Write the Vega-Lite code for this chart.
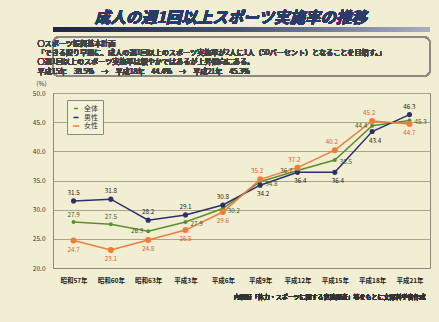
{
  "$schema": "https://vega.github.io/schema/vega-lite/v6.json",
  "autosize": "none",
  "width": 377,
  "height": 175,
  "padding": {"left": 53, "top": 93, "right": 9, "bottom": 54},
  "background": "#f2eed3",
  "config": {
    "font": "Noto Sans CJK JP",
    "view": {"stroke": "#8a8a78", "strokeWidth": 1},
    "axis": {"labelFont": "Noto Sans CJK JP", "titleFont": "Noto Sans CJK JP"}
  },
  "data": {
    "values": [
      {"year": "昭和57年", "series": "全体", "v": 27.9},
      {"year": "昭和60年", "series": "全体", "v": 27.5},
      {"year": "昭和63年", "series": "全体", "v": 26.3},
      {"year": "平成3年", "series": "全体", "v": 27.9},
      {"year": "平成6年", "series": "全体", "v": 30.2},
      {"year": "平成9年", "series": "全体", "v": 34.8},
      {"year": "平成12年", "series": "全体", "v": 36.7},
      {"year": "平成15年", "series": "全体", "v": 38.5},
      {"year": "平成18年", "series": "全体", "v": 44.4},
      {"year": "平成21年", "series": "全体", "v": 45.3},
      {"year": "昭和57年", "series": "男性", "v": 31.5},
      {"year": "昭和60年", "series": "男性", "v": 31.8},
      {"year": "昭和63年", "series": "男性", "v": 28.2},
      {"year": "平成3年", "series": "男性", "v": 29.1},
      {"year": "平成6年", "series": "男性", "v": 30.8},
      {"year": "平成9年", "series": "男性", "v": 34.2},
      {"year": "平成12年", "series": "男性", "v": 36.4},
      {"year": "平成15年", "series": "男性", "v": 36.4},
      {"year": "平成18年", "series": "男性", "v": 43.4},
      {"year": "平成21年", "series": "男性", "v": 46.3},
      {"year": "昭和57年", "series": "女性", "v": 24.7},
      {"year": "昭和60年", "series": "女性", "v": 23.1},
      {"year": "昭和63年", "series": "女性", "v": 24.8},
      {"year": "平成3年", "series": "女性", "v": 26.5},
      {"year": "平成6年", "series": "女性", "v": 29.6},
      {"year": "平成9年", "series": "女性", "v": 35.2},
      {"year": "平成12年", "series": "女性", "v": 37.2},
      {"year": "平成15年", "series": "女性", "v": 40.2},
      {"year": "平成18年", "series": "女性", "v": 45.2},
      {"year": "平成21年", "series": "女性", "v": 44.7}
    ]
  },
  "encoding": {
    "x": {
      "field": "year", "type": "ordinal", "sort": null,
      "scale": {"type": "point", "padding": 0.55, "domain": ["昭和57年", "昭和60年", "昭和63年", "平成3年", "平成6年", "平成9年", "平成12年", "平成15年", "平成18年", "平成21年"]},
      "axis": {"title": null, "labelAngle": 0, "labelFontSize": 6.5, "labelFontWeight": "bold", "labelColor": "#222", "ticks": false, "labelPadding": 9, "domainColor": "#8a8a78"}
    },
    "y": {
      "field": "v", "type": "quantitative",
      "scale": {"domain": [20, 50], "nice": false, "zero": false},
      "axis": {"title": "(%)", "titleAngle": 0, "titleFontSize": 6.5, "titleFontWeight": "normal", "titleColor": "#333", "titleBaseline": "middle", "titleX": -12, "titleY": -10, "values": [20, 25, 30, 35, 40, 45, 50], "format": ".1f", "labelFontSize": 6.5, "labelColor": "#333", "ticks": false, "labelPadding": 8, "gridColor": "#a8a588", "gridWidth": 1, "domainColor": "#8a8a78"}
    }
  },
  "layer": [
    {
      "mark": {"type": "rect", "clip": false, "fill": {"x1": 0, "y1": 0, "x2": 1, "y2": 0, "gradient": "linear", "stops": [{"offset": 0, "color": "#1c2442"}, {"offset": 0.5, "color": "#4a5478"}, {"offset": 1, "color": "#a9aec4"}]}},
      "encoding": {"x": null, "y": {"datum": 61.3}, "y2": {"datum": 60.6}}
    },
    {
      "mark": {"type": "rect", "clip": false, "fill": null, "fillOpacity": 0, "stroke": "#8a8a80", "strokeWidth": 1.3, "cornerRadius": 6},
      "encoding": {"x": null, "y": {"datum": 59.6}, "y2": {"datum": 52.9}}
    },
    {
      "mark": {"type": "text", "clip": false, "align": "center", "baseline": "middle", "dx": 8, "fontSize": 15.5, "fontStyle": "italic", "fontWeight": "bold", "color": "#2b3a6a", "text": "成人の週1回以上スポーツ実施率の推移"},
      "encoding": {"x": {"datum": "平成6年"}, "y": {"datum": 62.9}}
    },
    {
      "mark": {"type": "text", "clip": false, "align": "left", "baseline": "top", "dx": -36, "fontSize": 7.1, "fontWeight": "normal", "color": "#444", "lineHeight": 9.2,
        "text": ["○スポーツ振興基本計画", "　「できる限り早期に、成人の週1回以上のスポーツ実施率が2人に1人（50パーセント）となることを目指す。」", "○週1回以上のスポーツ実施率は緩やかではあるが上昇傾向にある。", "　平成15年　38.5%　→　平成18年　44.4%　→　平成21年　45.3%"]},
      "encoding": {"x": {"datum": "昭和57年"}, "y": {"datum": 59.1}}
    },
    {
      "mark": {"type": "text", "clip": false, "align": "right", "baseline": "middle", "dx": 16, "fontSize": 6, "color": "#333", "text": "内閣府「体力・スポーツに関する世論調査」等をもとに文部科学省作成"},
      "encoding": {"x": {"datum": "平成21年"}, "y": {"datum": 15.0}}
    },
    {
      "mark": {"type": "line", "strokeWidth": 1.5},
      "encoding": {
        "color": {"field": "series", "type": "nominal",
          "scale": {"domain": ["全体", "男性", "女性"], "range": ["#5b8f2e", "#2c2f6b", "#ee7d3a"]},
          "legend": {"title": null, "orient": "none", "legendX": 14, "legendY": 7, "symbolType": "stroke", "symbolSize": 500, "symbolStrokeWidth": 1.5, "labelFontSize": 7, "labelColor": "#333", "strokeColor": "#888", "fillColor": "#f5f2da", "padding": 5, "rowPadding": 1}
        }
      }
    },
    {
      "mark": {"type": "point", "filled": true, "opacity": 1},
      "encoding": {
        "color": {"field": "series", "type": "nominal", "legend": null},
        "size": {"field": "series", "type": "nominal", "scale": {"domain": ["全体", "男性", "女性"], "range": [16, 36, 14]}, "legend": null}
      }
    },
    {
      "transform": [{"filter": {"and": [{"field": "series", "equal": "男性"}, {"field": "year", "oneOf": ["昭和57年", "昭和60年", "昭和63年", "平成3年", "平成6年", "平成21年"]}]}}],
      "mark": {"type": "text", "dy": -8, "fontSize": 6.3, "color": "#222"},
      "encoding": {"text": {"field": "v", "type": "quantitative", "format": ".1f"}}
    },
    {
      "transform": [{"filter": {"and": [{"field": "series", "equal": "男性"}, {"field": "year", "oneOf": ["平成9年", "平成12年", "平成15年", "平成18年"]}]}}],
      "mark": {"type": "text", "dy": 9, "dx": 3, "fontSize": 6.3, "color": "#222"},
      "encoding": {"text": {"field": "v", "type": "quantitative", "format": ".1f"}}
    },
    {
      "transform": [{"filter": {"and": [{"field": "series", "equal": "全体"}, {"field": "year", "oneOf": ["昭和57年", "昭和60年"]}]}}],
      "mark": {"type": "text", "dy": -7, "fontSize": 6.3, "color": "#3d5a1e"},
      "encoding": {"text": {"field": "v", "type": "quantitative", "format": ".1f"}}
    },
    {
      "transform": [{"filter": {"and": [{"field": "series", "equal": "全体"}, {"field": "year", "oneOf": ["昭和63年", "平成12年", "平成18年"]}]}}],
      "mark": {"type": "text", "align": "right", "dx": -5, "dy": 0, "fontSize": 6.3, "color": "#3d5a1e"},
      "encoding": {"text": {"field": "v", "type": "quantitative", "format": ".1f"}}
    },
    {
      "transform": [{"filter": {"and": [{"field": "series", "equal": "全体"}, {"field": "year", "oneOf": ["平成3年", "平成6年", "平成9年", "平成15年", "平成21年"]}]}}],
      "mark": {"type": "text", "align": "left", "dx": 5, "dy": 2, "fontSize": 6.3, "color": "#3d5a1e"},
      "encoding": {"text": {"field": "v", "type": "quantitative", "format": ".1f"}}
    },
    {
      "transform": [{"filter": {"and": [{"field": "series", "equal": "女性"}, {"field": "year", "oneOf": ["昭和57年", "昭和60年", "昭和63年", "平成3年", "平成6年", "平成21年"]}]}}],
      "mark": {"type": "text", "dy": 9, "fontSize": 6.3, "color": "#d8602a"},
      "encoding": {"text": {"field": "v", "type": "quantitative", "format": ".1f"}}
    },
    {
      "transform": [{"filter": {"and": [{"field": "series", "equal": "女性"}, {"field": "year", "oneOf": ["平成9年", "平成12年", "平成15年", "平成18年"]}]}}],
      "mark": {"type": "text", "dy": -8, "dx": -3, "fontSize": 6.3, "color": "#d8602a"},
      "encoding": {"text": {"field": "v", "type": "quantitative", "format": ".1f"}}
    }
  ]
}
